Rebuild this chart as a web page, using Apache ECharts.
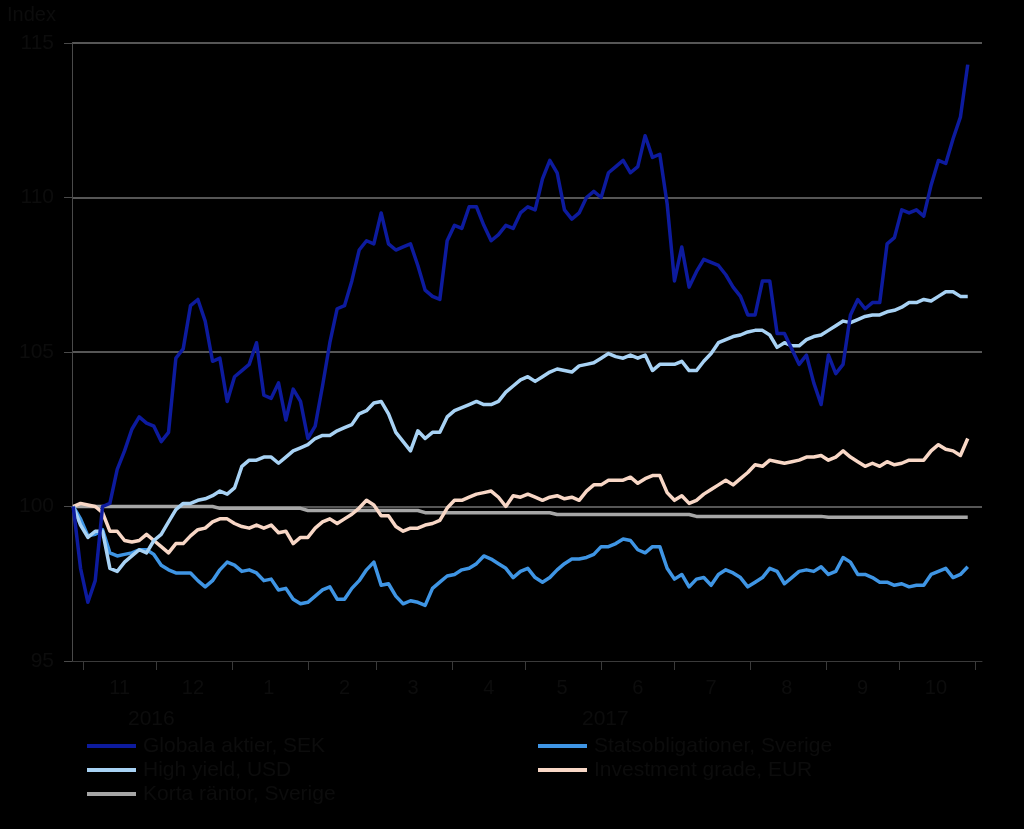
<!DOCTYPE html>
<html>
<head>
<meta charset="utf-8">
<script src="https://cdn.jsdelivr.net/npm/echarts@6/dist/echarts.min.js"></script>
<style>
html,body{margin:0;padding:0;background:#000;}
#chart{width:1024px;height:829px;}
</style>
</head>
<body>
<div id="chart"></div>
<script>
// Sampling: every 3 days starting 2016-10-28
const START = [2016, 9, 28];
const STEP_DAYS = 3;

const SERIES_NAMES = ['Globala aktier, SEK', 'High yield, USD', 'Korta räntor, Sverige', 'Statsobligationer, Sverige', 'Investment grade, EUR'];
const YEAR_LABELS = ['2016', '2017'];
const Y_TICKS = [95, 100, 105, 110, 115];

const globala = [100.0, 98.0, 96.9, 97.6, 100.0, 100.1, 101.2, 101.8, 102.5, 102.9,
  102.7, 102.6, 102.1, 102.4, 104.8, 105.1, 106.5, 106.7, 106.0, 104.7,
  104.8, 103.4, 104.2, 104.4, 104.6, 105.3, 103.6, 103.5, 104.0, 102.8,
  103.8, 103.4, 102.2, 102.6, 103.9, 105.3, 106.4, 106.5, 107.3, 108.3,
  108.6, 108.5, 109.5, 108.5, 108.3, 108.4, 108.5, 107.8, 107.0, 106.8,
  106.7, 108.6, 109.1, 109.0, 109.7, 109.7, 109.1, 108.6, 108.8, 109.1,
  109.0, 109.5, 109.7, 109.6, 110.6, 111.2, 110.8, 109.6, 109.3, 109.5,
  110.0, 110.2, 110.0, 110.8, 111.0, 111.2, 110.8, 111.0, 112.0, 111.3,
  111.4, 109.8, 107.3, 108.4, 107.1, 107.6, 108.0, 107.9, 107.8, 107.5,
  107.1, 106.8, 106.2, 106.2, 107.3, 107.3, 105.6, 105.6, 105.1, 104.6,
  104.9, 104.0, 103.3, 104.9, 104.3, 104.6, 106.2, 106.7, 106.4, 106.6,
  106.6, 108.5, 108.7, 109.6, 109.5, 109.6, 109.4, 110.4, 111.2, 111.1,
  111.9, 112.6, 114.3];

const highYield = [100.0, 99.4, 99.0, 99.2, 99.2, 98.0, 97.9, 98.2, 98.4, 98.6,
  98.5, 98.9, 99.1, 99.5, 99.9, 100.1, 100.1, 100.2, 100.25, 100.35,
  100.5, 100.4, 100.6, 101.3, 101.5, 101.5, 101.6, 101.6, 101.4, 101.6,
  101.8, 101.9, 102.0, 102.2, 102.3, 102.3, 102.45, 102.55, 102.65, 103.0,
  103.1, 103.35, 103.4, 103.0, 102.4, 102.1, 101.8, 102.45, 102.2, 102.4,
  102.4, 102.9, 103.1, 103.2, 103.3, 103.4, 103.3, 103.3, 103.4, 103.7,
  103.9, 104.1, 104.2, 104.05, 104.2, 104.35, 104.45, 104.4, 104.35, 104.55,
  104.6, 104.65, 104.8, 104.95, 104.85, 104.8, 104.9, 104.8, 104.9, 104.4,
  104.6, 104.6, 104.6, 104.7, 104.4, 104.4, 104.7, 104.95, 105.3, 105.4,
  105.5, 105.55, 105.65, 105.7, 105.7, 105.55, 105.15, 105.3, 105.2, 105.2,
  105.4, 105.5, 105.55, 105.7, 105.85, 106.0, 105.95, 106.05, 106.15, 106.2,
  106.2, 106.3, 106.35, 106.45, 106.6, 106.6, 106.7, 106.65, 106.8, 106.95,
  106.95, 106.8, 106.8];

const kortaRantor = [100.0, 100.0, 100.0, 100.0, 100.0, 100.0, 100.0, 100.0, 100.0, 100.0,
  100.0, 100.0, 100.0, 100.0, 100.0, 100.0, 100.0, 100.0, 100.0, 100.0,
  99.94, 99.94, 99.94, 99.94, 99.94, 99.94, 99.94, 99.94, 99.94, 99.94,
  99.94, 99.94, 99.87, 99.87, 99.87, 99.87, 99.87, 99.87, 99.87, 99.87,
  99.87, 99.87, 99.87, 99.87, 99.87, 99.87, 99.87, 99.87, 99.8, 99.8,
  99.8, 99.8, 99.8, 99.8, 99.8, 99.8, 99.8, 99.8, 99.8, 99.8,
  99.8, 99.8, 99.8, 99.8, 99.8, 99.8, 99.74, 99.74, 99.74, 99.74,
  99.74, 99.74, 99.74, 99.74, 99.74, 99.74, 99.74, 99.74, 99.74, 99.74,
  99.74, 99.74, 99.74, 99.74, 99.74, 99.68, 99.68, 99.68, 99.68, 99.68,
  99.68, 99.68, 99.68, 99.68, 99.68, 99.68, 99.68, 99.68, 99.68, 99.68,
  99.68, 99.68, 99.68, 99.65, 99.65, 99.65, 99.65, 99.65, 99.65, 99.65,
  99.65, 99.65, 99.65, 99.65, 99.65, 99.65, 99.65, 99.65, 99.65, 99.65,
  99.65, 99.65, 99.65];

const statsobligationer = [100.0, 99.6, 99.05, 99.1, 99.25, 98.5, 98.4, 98.45, 98.5, 98.6,
  98.6, 98.45, 98.1, 97.95, 97.85, 97.85, 97.85, 97.6, 97.4, 97.6,
  97.95, 98.2, 98.1, 97.9, 97.95, 97.85, 97.6, 97.65, 97.3, 97.35,
  97.0, 96.85, 96.9, 97.1, 97.3, 97.4, 97.0, 97.0, 97.35, 97.6,
  97.95, 98.2, 97.45, 97.5, 97.1, 96.85, 96.95, 96.9, 96.8, 97.35,
  97.55, 97.75, 97.8, 97.95, 98.0, 98.15, 98.4, 98.3, 98.15, 98.0,
  97.7, 97.9, 98.0, 97.7, 97.55, 97.7, 97.95, 98.15, 98.3, 98.3,
  98.35, 98.45, 98.7, 98.7, 98.8, 98.95, 98.9, 98.6, 98.5, 98.7,
  98.7, 98.0, 97.65, 97.8, 97.4, 97.65, 97.7, 97.45, 97.8, 97.95,
  97.85, 97.7, 97.4, 97.55, 97.7, 98.0, 97.9, 97.5, 97.7, 97.9,
  97.95, 97.9, 98.05, 97.8, 97.9, 98.35, 98.2, 97.8, 97.8, 97.7,
  97.55, 97.55, 97.45, 97.5, 97.4, 97.45, 97.45, 97.8, 97.9, 98.0,
  97.7, 97.8, 98.05];

const investmentGrade = [100.0, 100.1, 100.05, 100.0, 99.8, 99.2, 99.2, 98.9, 98.85, 98.9,
  99.1, 98.9, 98.7, 98.5, 98.8, 98.8, 99.05, 99.25, 99.3, 99.5,
  99.6, 99.6, 99.45, 99.35, 99.3, 99.4, 99.3, 99.4, 99.15, 99.2,
  98.8, 99.0, 99.0, 99.3, 99.5, 99.6, 99.45, 99.6, 99.75, 99.95,
  100.2, 100.05, 99.7, 99.7, 99.35, 99.2, 99.3, 99.3, 99.4, 99.45,
  99.55, 99.95, 100.2, 100.2, 100.3, 100.4, 100.45, 100.5, 100.3, 100.0,
  100.35, 100.3, 100.4, 100.3, 100.2, 100.3, 100.35, 100.25, 100.3, 100.2,
  100.5, 100.7, 100.7, 100.85, 100.85, 100.85, 100.95, 100.75, 100.9, 101.0,
  101.0, 100.45, 100.2, 100.35, 100.1, 100.2, 100.4, 100.55, 100.7, 100.85,
  100.7, 100.9, 101.1, 101.35, 101.3, 101.5, 101.45, 101.4, 101.45, 101.5,
  101.6, 101.6, 101.65, 101.5, 101.6, 101.8, 101.6, 101.45, 101.3, 101.4,
  101.3, 101.45, 101.35, 101.4, 101.5, 101.5, 101.5, 101.8, 102.0, 101.85,
  101.8, 101.65, 102.2];

const COLORS = {
  globala: '#0d1b9e',
  highYield: '#a8d2f4',
  korta: '#a6a6a6',
  stats: '#3f95e4',
  ig: '#f8d7c6'
};
const TEXT = '#0c0c0c';

// dates for the sampled points
const dates = globala.map((_, i) => new Date(START[0], START[1], START[2] + i * STEP_DAYS).getTime());
const pair = arr => arr.map((v, i) => [dates[i], v]);

// month boundaries (ticks) and mid-month positions (labels)
const monthStarts = [];
const monthMids = [];
for (let m = 10; m <= 22; m++) {
  monthStarts.push(new Date(2016, m, 1).getTime());
  if (m < 22) monthMids.push(new Date(2016, m, 16).getTime());
}

const chart = echarts.init(document.getElementById('chart'), null, {renderer: 'canvas'});

function mkSeries(name, data, color) {
  return {
    name: name,
    type: 'line',
    data: pair(data),
    showSymbol: false,
    symbol: 'none',
    lineStyle: {width: 3.5, color: color, join: 'round'},
    itemStyle: {color: color},
    emphasis: {disabled: true},
    animation: false
  };
}

const FONT = 'Liberation Sans, Arial, sans-serif';

chart.setOption({
  backgroundColor: '#000000',
  animation: false,
  textStyle: {fontFamily: FONT},
  grid: {left: 72, right: 42, top: 43, bottom: 168, containLabel: false},
  xAxis: {
    type: 'value',
    min: new Date(2016, 9, 27, 12).getTime(),
    max: new Date(2017, 10, 3, 20).getTime(),
    axisLine: {show: true, lineStyle: {color: '#3a3a3a', width: 1}},
    axisTick: {show: true, customValues: monthStarts, length: 9, lineStyle: {color: '#3a3a3a', width: 1}},
    axisLabel: {
      customValues: monthMids,
      formatter: v => String(new Date(v).getMonth() + 1),
      color: TEXT, fontSize: 20, fontFamily: FONT, margin: 17
    },
    splitLine: {show: false}
  },
  yAxis: {
    type: 'value',
    min: Y_TICKS[0], max: Y_TICKS[Y_TICKS.length - 1], interval: 5,
    axisLine: {show: true, lineStyle: {color: '#4a4a4a', width: 1}},
    axisTick: {show: true, length: 8, lineStyle: {color: '#4a4a4a'}},
    axisLabel: {color: TEXT, fontSize: 21, fontFamily: FONT, margin: 18},
    splitLine: {show: true, lineStyle: {color: ['rgba(0,0,0,0)', '#737373', '#737373', '#737373', '#737373'], width: 1.5}}
  },
  legend: [
    {
      data: [SERIES_NAMES[0], SERIES_NAMES[1], SERIES_NAMES[2]],
      orient: 'vertical', left: 87, top: 734, padding: 0,
      icon: 'rect', itemWidth: 49, itemHeight: 4, itemGap: 0,
      textStyle: {color: TEXT, fontSize: 21, fontFamily: FONT, lineHeight: 24, padding: [0, 0, 0, 2]},
      selectedMode: false
    },
    {
      data: [SERIES_NAMES[3], SERIES_NAMES[4]],
      orient: 'vertical', left: 538, top: 734, padding: 0,
      icon: 'rect', itemWidth: 49, itemHeight: 4, itemGap: 0,
      textStyle: {color: TEXT, fontSize: 21, fontFamily: FONT, lineHeight: 24, padding: [0, 0, 0, 2]},
      selectedMode: false
    }
  ],
  graphic: [
    {type: 'text', left: 7, top: 5, style: {text: 'Index', fill: TEXT, font: '20px ' + FONT}},
    {type: 'text', left: 128, top: 709, style: {text: YEAR_LABELS[0], fill: TEXT, font: '21px ' + FONT}},
    {type: 'text', left: 582, top: 709, style: {text: YEAR_LABELS[1], fill: TEXT, font: '21px ' + FONT}}
  ],
  series: [
    mkSeries(SERIES_NAMES[2], kortaRantor, COLORS.korta),
    mkSeries(SERIES_NAMES[4], investmentGrade, COLORS.ig),
    mkSeries(SERIES_NAMES[3], statsobligationer, COLORS.stats),
    mkSeries(SERIES_NAMES[1], highYield, COLORS.highYield),
    mkSeries(SERIES_NAMES[0], globala, COLORS.globala)
  ]
});
</script>
</body>
</html>
